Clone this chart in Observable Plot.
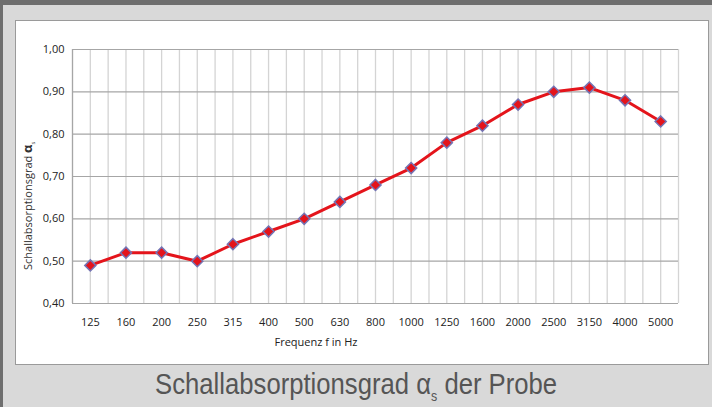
<!DOCTYPE html>
<html><head><meta charset="utf-8">
<script src="https://cdn.jsdelivr.net/npm/d3@7"></script>
<script src="https://cdn.jsdelivr.net/npm/@observablehq/plot@0.6"></script>
<style>
html,body{margin:0;padding:0;}
body{width:712px;height:407px;position:relative;overflow:hidden;background:#6e6e6e;font-family:"Open Sans","Noto Sans",sans-serif;}
#bg{position:absolute;left:3px;top:5px;width:709px;height:402px;background:#d9d9d9;}
#panel{position:absolute;left:15px;top:20px;width:692px;height:343px;background:#fff;border:1px solid #9a9a9a;}
#chart{position:absolute;left:0;top:0;}
#ylab{position:absolute;left:-49px;top:181px;width:120px;height:16px;line-height:16px;text-align:center;transform:rotate(-90deg);font-size:11px;color:#333;white-space:nowrap;}
#ylab b{font-size:13px;}
#xlab{position:absolute;left:230px;top:313px;width:140px;text-align:center;font-size:11px;color:#222;}
#titlewrap{position:absolute;left:0;top:369px;width:712px;text-align:center;}
#title{display:inline-block;font-family:"Liberation Sans","Arial",sans-serif;font-size:29px;line-height:30px;color:#555;white-space:nowrap;transform-origin:center top;}
#title sub{font-size:14px;vertical-align:-7px;}
</style></head>
<body>
<div id="bg"></div>
<div id="panel"><div id="chart"></div>
<div id="ylab">Schallabsorptionsgrad <b>α</b><sub style="font-size:6px">s</sub></div>
<div id="xlab">Frequenz f in Hz</div>
</div>
<div id="titlewrap"><span id="title">Schallabsorptionsgrad α<sub>s</sub> der Probe</span></div>
<script>
const categories = ["125","160","200","250","315","400","500","630","800","1000","1250","1600","2000","2500","3150","4000","5000"];
const values = [0.49,0.52,0.52,0.50,0.54,0.57,0.60,0.64,0.68,0.72,0.78,0.82,0.87,0.90,0.91,0.88,0.83];
const yTicks = [0.40,0.50,0.60,0.70,0.80,0.90,1.00];

const data = categories.map((c,i)=>({i, c, v: values[i]}));
const centers = categories.map((c,i)=>i);
const edges = [...categories.map((c,i)=>i-0.5), categories.length-0.5];

const chart = Plot.plot({
  width: 692, height: 343,
  marginLeft: 56, marginRight: 30, marginTop: 28, marginBottom: 61,
  style: {background: "transparent", fontFamily: "'Open Sans','Noto Sans',sans-serif", fontSize: "11px", color: "#222"},
  x: {type: "linear", domain: [-0.5, categories.length-0.5], axis: null},
  y: {domain: [0.40, 1.00], axis: null},
  marks: [
    Plot.ruleX(centers, {x: d=>d, stroke: "#d4d4d4", strokeWidth: 1.3, strokeOpacity: 1}),
    Plot.ruleX(edges, {x: d=>d, stroke: "#d4d4d4", strokeWidth: 1.3, strokeOpacity: 1}),
    Plot.ruleY(yTicks, {y: d=>d, stroke: "#a6a6a6", strokeWidth: 1.2}),
    Plot.ruleX([-0.5], {stroke: "#a6a6a6", strokeWidth: 1.2}),
    Plot.axisY({ticks: yTicks, tickFormat: d=>d.toFixed(2).replace(".", ","), tickSize: 0, tickPadding: 8, label: null, fontSize: 11}),
    Plot.axisX({ticks: centers, tickFormat: i=>categories[i], tickSize: 0, tickPadding: 15, label: null, fontSize: 11}),
    Plot.line(data, {x: "i", y: "v", stroke: "#e4141b", strokeWidth: 3}),
    Plot.dot(data, {x: "i", y: "v", symbol: "diamond2", r: 5, fill: "#e4141b", stroke: "#7474b4", strokeWidth: 1.5})
  ]
});
document.getElementById("chart").appendChild(chart);
const t = document.getElementById("title");
const w = t.getBoundingClientRect().width;
t.style.transform = `scaleX(${402 / w})`;
</script>
</body></html>
